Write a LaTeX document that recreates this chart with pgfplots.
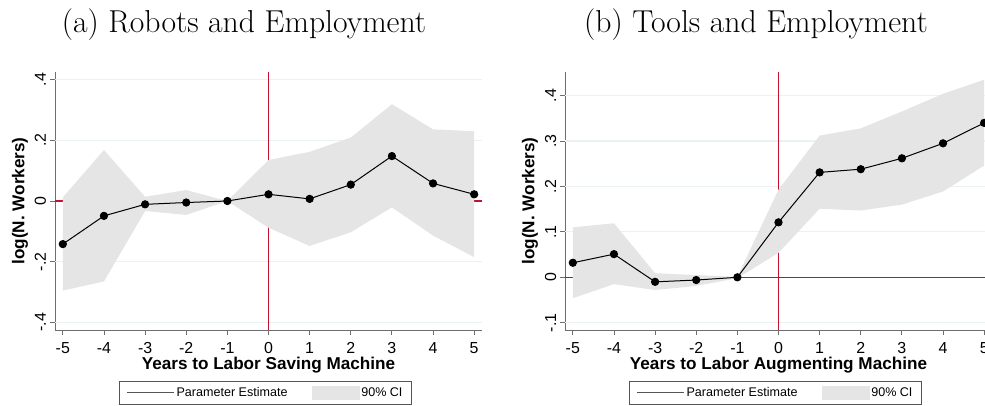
\documentclass[border=0pt]{standalone}
\usepackage{fontspec}
\setsansfont{Liberation Sans}
\usepackage{pgfplots}
\usepackage{pgfplotstable}
\pgfplotsset{compat=1.18}

\definecolor{cigray}{RGB}{229,229,229}
\definecolor{gridc}{RGB}{234,242,243}
\definecolor{redl}{RGB}{200,16,46}
\definecolor{axgray}{RGB}{110,110,110}
\definecolor{leggray}{RGB}{85,85,85}

% point estimates: x est
\pgfplotstableread{
x est
-5 -0.142
-4 -0.049
-3 -0.011
-2 -0.005
-1 0.000
0 0.022
1 0.007
2 0.054
3 0.148
4 0.058
5 0.022
}\robots

\pgfplotstableread{
x est
-5 0.032
-4 0.051
-3 -0.010
-2 -0.006
-1 0.000
0 0.121
1 0.231
2 0.238
3 0.262
4 0.295
5 0.340
}\tools

\pgfplotsset{
  myax/.style={
    scale only axis, width=427bp, height=258bp,
    xmin=-5.19, xmax=5.19,
    axis lines*=left,
    axis line style={axgray, line width=0.9bp, -},
    xtick={-5,-4,-3,-2,-1,0,1,2,3,4,5},
    xticklabels={-5,-4,-3,-2,-1,0,1,2,3,4,5},
    tick align=outside, major tick length=5bp,
    major tick style={axgray, line width=0.9bp},
    tick label style={font=\sffamily\fontsize{16}{16}\selectfont},
    /pgf/number format/assume math mode=true,
    xticklabel style={anchor=base},
    xticklabel shift=18bp,
    yticklabel style={rotate=90, anchor=base},
    yticklabel shift=4bp,
    label style={font=\sffamily\bfseries\fontsize{17.2}{18}\selectfont},
    ylabel={log(N. Workers)},
    ylabel style={at={(axis description cs:-0.082,0.5)}, anchor=center},
    xlabel style={at={(axis description cs:0.5,-0.155)}, anchor=base},
    legend columns=2,
    legend style={draw=leggray, line width=0.8bp, inner xsep=7bp, inner ysep=4.5bp,
      font=\sffamily\fontsize{12.6}{14}\selectfont,
      at={(axis description cs:0.493,-0.2907)}, anchor=south,
      /tikz/every even column/.append style={column sep=22bp}},
    gridline/.style={draw=gridc, line width=1.1bp, forget plot},
    refline/.style={draw=redl, line width=1.1bp, forget plot},
    estline/.style={draw=black, line width=1bp, mark=*, mark size=3.6bp,
      mark options={draw=black, fill=black}, forget plot},
  }
}

\begin{document}
\begin{tikzpicture}
\node[anchor=base, font=\fontsize{31.8}{36}\selectfont] at (244bp,373bp) {(a) Robots and Employment};
\node[anchor=base, font=\fontsize{31.8}{36}\selectfont] at (756bp,373bp) {(b) Tools and Employment};

\begin{axis}[myax, at={(55bp,76bp)}, anchor=south west,
  ymin=-0.425, ymax=0.425,
  ytick={-0.4,-0.2,0,0.2,0.4}, yticklabels={-.4,-.2,0,.2,.4},
  xlabel={Years to Labor Saving Machine}]
  \addlegendimage{legend image code/.code={\draw[leggray, line width=1.1bp] (0bp,0bp) -- (47bp,0bp);}}
  \addlegendentry{Parameter Estimate}
  \addlegendimage{legend image code/.code={\fill[cigray] (0bp,-6.5bp) rectangle (47bp,6.5bp);}}
  \addlegendentry{90\% CI}
  \addplot[gridline] coordinates {(-5.19,0.4) (5.19,0.4)};
  \addplot[gridline] coordinates {(-5.19,0.2) (5.19,0.2)};
  \addplot[gridline] coordinates {(-5.19,-0.2) (5.19,-0.2)};
  \addplot[gridline] coordinates {(-5.19,-0.4) (5.19,-0.4)};
  \addplot[refline] coordinates {(-5.19,0) (5.19,0)};
  \addplot[refline] coordinates {(0,-0.425) (0,0.425)};
  % 90% CI: upper bound left to right, then lower bound right to left
  \addplot[fill=cigray, draw=none, forget plot] coordinates {
    (-5,0.012) (-4,0.168) (-3,0.014) (-2,0.036) (-1,0) (0,0.135) (1,0.162) (2,0.209) (3,0.319) (4,0.236) (5,0.230)
    (5,-0.185) (4,-0.114) (3,-0.021) (2,-0.103) (1,-0.148) (0,-0.088) (-1,0) (-2,-0.046) (-3,-0.033) (-4,-0.265) (-5,-0.295)
  } -- cycle;
  \addplot[estline] table[x=x, y=est] {\robots};
\end{axis}

\begin{axis}[myax, at={(565bp,76bp)}, anchor=south west,
  ymin=-0.116, ymax=0.452,
  ytick={-0.1,0,0.1,0.2,0.3,0.4}, yticklabels={-.1,0,.1,.2,.3,.4},
  xlabel={Years to Labor Augmenting Machine}]
  \addlegendimage{legend image code/.code={\draw[leggray, line width=1.1bp] (0bp,0bp) -- (47bp,0bp);}}
  \addlegendentry{Parameter Estimate}
  \addlegendimage{legend image code/.code={\fill[cigray] (0bp,-6.5bp) rectangle (47bp,6.5bp);}}
  \addlegendentry{90\% CI}
  \addplot[gridline] coordinates {(-5.19,0.4) (5.19,0.4)};
  \addplot[gridline] coordinates {(-5.19,0.3) (5.19,0.3)};
  \addplot[gridline] coordinates {(-5.19,0.2) (5.19,0.2)};
  \addplot[gridline] coordinates {(-5.19,0.1) (5.19,0.1)};
  \addplot[gridline] coordinates {(-5.19,-0.1) (5.19,-0.1)};
  \addplot[refline] coordinates {(-5.19,0) (5.19,0)};
  \addplot[refline] coordinates {(0,-0.116) (0,0.452)};
  \addplot[fill=cigray, draw=none, forget plot] coordinates {
    (-5,0.110) (-4,0.119) (-3,0.009) (-2,0.005) (-1,0.001) (0,0.193) (1,0.312) (2,0.328) (3,0.365) (4,0.404) (5,0.435)
    (5,0.246) (4,0.189) (3,0.160) (2,0.147) (1,0.151) (0,0.054) (-1,-0.002) (-2,-0.019) (-3,-0.028) (-4,-0.015) (-5,-0.046)
  } -- cycle;
  \addplot[estline] table[x=x, y=est] {\tools};
\end{axis}

\pgfresetboundingbox
\useasboundingbox (0,0) rectangle (985bp,406bp);
\end{tikzpicture}
\end{document}
